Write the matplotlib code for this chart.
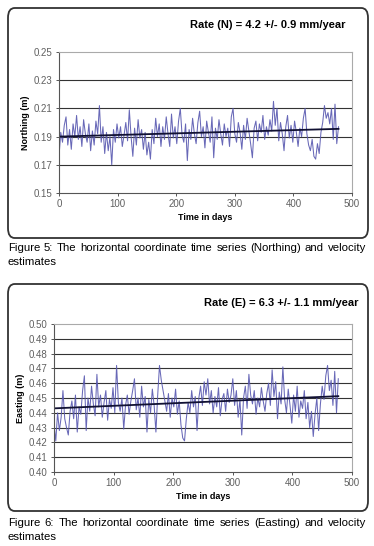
import numpy as np
import matplotlib
matplotlib.use("Agg")
import matplotlib.pyplot as plt
from matplotlib.patches import FancyBboxPatch

days = np.arange(0, 480, 3)

northing = [
    0.176, 0.193, 0.186, 0.198, 0.204, 0.184, 0.195, 0.181, 0.199, 0.190,
    0.205, 0.188, 0.197, 0.183, 0.202, 0.192, 0.186, 0.199, 0.180, 0.194,
    0.184, 0.201, 0.192, 0.212, 0.186, 0.197, 0.178, 0.193, 0.180, 0.190,
    0.170, 0.195, 0.186, 0.199, 0.189, 0.197, 0.183, 0.191, 0.200, 0.187,
    0.209, 0.190, 0.176, 0.196, 0.184, 0.202, 0.189, 0.195, 0.181, 0.193,
    0.177, 0.186, 0.174, 0.195, 0.185, 0.203, 0.190, 0.199, 0.183, 0.197,
    0.188, 0.204, 0.192, 0.183, 0.206, 0.189, 0.197, 0.185, 0.201, 0.210,
    0.191, 0.186, 0.199, 0.173, 0.195, 0.188, 0.203, 0.192, 0.185, 0.200,
    0.208, 0.190, 0.197, 0.182, 0.201, 0.193, 0.186, 0.204, 0.175, 0.196,
    0.188, 0.202, 0.192, 0.184, 0.199, 0.190, 0.196, 0.183, 0.204, 0.210,
    0.192, 0.186, 0.200, 0.193, 0.181, 0.198, 0.188, 0.203, 0.194, 0.185,
    0.175, 0.196, 0.201, 0.187, 0.199, 0.193, 0.205, 0.188, 0.197, 0.191,
    0.202, 0.194, 0.215, 0.198, 0.210, 0.187, 0.200, 0.192, 0.180, 0.197,
    0.205, 0.189, 0.198, 0.186, 0.201, 0.193, 0.183, 0.196, 0.190, 0.203,
    0.210, 0.192, 0.184, 0.180, 0.188, 0.176, 0.174, 0.185, 0.178, 0.193,
    0.200, 0.212, 0.203, 0.207, 0.199, 0.210, 0.188, 0.213, 0.185, 0.197,
]

easting = [
    0.432, 0.421, 0.440, 0.428, 0.437, 0.455, 0.436, 0.430, 0.425, 0.441,
    0.448, 0.436, 0.452, 0.427, 0.444, 0.439, 0.455, 0.465, 0.428, 0.450,
    0.441, 0.458, 0.446, 0.438, 0.466, 0.444, 0.452, 0.437, 0.447, 0.455,
    0.435, 0.449, 0.443, 0.457, 0.440, 0.472, 0.447, 0.441, 0.450, 0.429,
    0.445, 0.452, 0.439, 0.448, 0.455, 0.463, 0.442, 0.450, 0.437, 0.458,
    0.444, 0.451, 0.427, 0.449, 0.440, 0.456, 0.445, 0.427, 0.452, 0.472,
    0.462, 0.455, 0.448, 0.441, 0.453, 0.437, 0.450, 0.444, 0.456, 0.439,
    0.448, 0.432, 0.423, 0.421, 0.436, 0.447, 0.440, 0.455, 0.444, 0.451,
    0.428, 0.450, 0.458, 0.445, 0.461, 0.452, 0.463, 0.446, 0.455, 0.440,
    0.451, 0.444, 0.457, 0.438, 0.449, 0.453, 0.441, 0.456, 0.447, 0.452,
    0.463, 0.445, 0.455, 0.437, 0.449, 0.425, 0.450, 0.458, 0.443, 0.466,
    0.452, 0.446, 0.455, 0.439, 0.450, 0.444, 0.457, 0.448, 0.441, 0.453,
    0.460, 0.445, 0.469, 0.451, 0.461, 0.436, 0.454, 0.446, 0.471, 0.449,
    0.440, 0.456, 0.445, 0.433, 0.452, 0.441, 0.458, 0.437, 0.448, 0.443,
    0.455, 0.436, 0.447, 0.430, 0.441, 0.424, 0.439, 0.450, 0.428, 0.446,
    0.458, 0.449, 0.465, 0.472, 0.455, 0.462, 0.445, 0.468, 0.440, 0.463,
]

# fitted velocity lines: start value (m) and rate (mm/year)
north_start, north_rate = 0.190, 4.2
east_start, east_rate = 0.443, 6.3

north_ticks = [0.15, 0.17, 0.19, 0.21, 0.23, 0.25]
east_ticks = [0.40, 0.41, 0.42, 0.43, 0.44, 0.45, 0.46, 0.47, 0.48, 0.49, 0.50]
x_ticks = [0, 100, 200, 300, 400, 500]

north_title = "Rate (N) = 4.2 +/- 0.9 mm/year"
east_title = "Rate (E) = 6.3 +/- 1.1 mm/year"
caption5 = ["Figure 5: The horizontal coordinate time series (Northing) and velocity",
            "estimates"]
caption6 = ["Figure 6: The horizontal coordinate time series (Easting) and velocity",
            "estimates"]

plt.rcParams["font.family"] = ["Liberation Sans", "DejaVu Sans"]

W, H = 374, 546
fig = plt.figure(figsize=(W / 100, H / 100), dpi=100)
renderer = fig.canvas.get_renderer()


def px(x, y):
    # pixel (from top-left) to figure coords
    return x / W, 1 - y / H


def add_box(top, bottom):
    x0, y0 = px(8, bottom)
    box = FancyBboxPatch((x0, y0), 360 / W, (bottom - top) / H,
                         boxstyle="round,pad=0,rounding_size=0.018",
                         transform=fig.transFigure, fill=False,
                         edgecolor="#333333", linewidth=1.3)
    fig.patches.append(box)


def justified_line(text, y, left=8, right=366, size=8.2):
    """spread the words of one caption line between left and right"""
    words = text.split()
    items = []
    total = 0
    for w in words:
        t = fig.text(0, 0, w, fontsize=size, va="center", ha="left")
        width = t.get_window_extent(renderer).width
        items.append((t, width))
        total += width
    gap = (right - left - total) / (len(words) - 1)
    x = left
    for t, width in items:
        t.set_position(px(x, y))
        x += width + gap


def draw_panel(rect, values, start, rate, yticks, ylabel, fmt):
    left, top, right, bottom = rect
    x0, y0 = px(left, bottom)
    ax = fig.add_axes([x0, y0, (right - left) / W, (bottom - top) / H])
    ax.plot(days, values, color="#5858b0", linewidth=0.75, alpha=0.9)
    fit_days = np.array([days[0], days[-1]])
    ax.plot(fit_days, start + rate / 1000 / 365 * fit_days, color="#111133", linewidth=1.3)
    ax.set_xlim(0, 500)
    ax.set_ylim(yticks[0], yticks[-1])
    ax.set_xticks(x_ticks)
    ax.set_yticks(yticks)
    ax.set_yticklabels([fmt % t for t in yticks])
    for t in yticks[1:-1]:
        ax.axhline(t, color="#333333", linewidth=0.8, zorder=0)
    for s in ["top", "right"]:
        ax.spines[s].set_color("#aaaaaa")
        ax.spines[s].set_linewidth(0.8)
    for s in ["left", "bottom"]:
        ax.spines[s].set_color("#555555")
        ax.spines[s].set_linewidth(0.8)
    ax.tick_params(labelsize=7, labelcolor="#606060", color="#555555",
                   length=2.5, width=0.7, pad=2)
    ax.set_ylabel(ylabel, fontsize=6.5, fontweight="bold", labelpad=3)
    ax.set_xlabel("Time in days", fontsize=6.5, fontweight="bold", labelpad=3)
    return ax


# Figure 5
add_box(8, 238)
draw_panel((59, 52, 352, 193), northing, north_start, north_rate,
           north_ticks, "Northing (m)", "%.2f")
fig.text(*px(345, 25), north_title, ha="right", va="center",
         fontsize=8, fontweight="bold")
justified_line(caption5[0], 248)
fig.text(*px(8, 262), caption5[1], ha="left", va="center", fontsize=8.2)

# Figure 6
add_box(284, 511)
draw_panel((54, 324, 352, 472), easting, east_start, east_rate,
           east_ticks, "Easting (m)", "%.2f")
fig.text(*px(359, 303), east_title, ha="right", va="center",
         fontsize=8, fontweight="bold")
justified_line(caption6[0], 523)
fig.text(*px(8, 537), caption6[1], ha="left", va="center", fontsize=8.2)

fig.savefig("out.png", dpi=100)
